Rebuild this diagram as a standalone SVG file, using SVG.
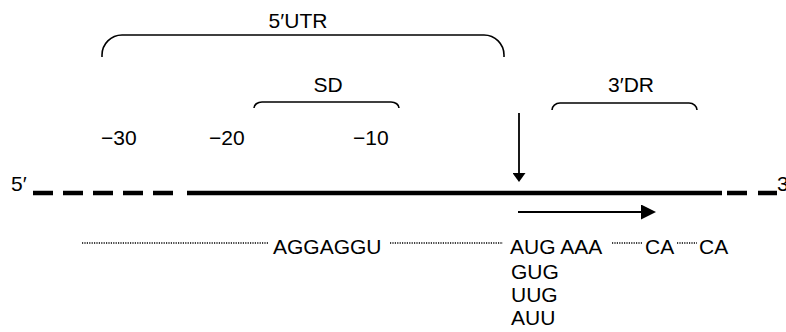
<svg xmlns="http://www.w3.org/2000/svg" width="786" height="332" viewBox="0 0 786 332">
<style>
text{font-family:"Liberation Sans",Arial,sans-serif;font-size:21px;fill:#000}
.br{fill:none;stroke:#000;stroke-width:1.6}
.dot{stroke:#000;stroke-width:1.4;stroke-dasharray:1.2 1.2;fill:none}
.main{stroke:#000;stroke-width:4.5;fill:none}
.arr{stroke:#000;stroke-width:1.8;fill:none}
</style>
<defs>
<marker id="ah" viewBox="0 0 15 15" refX="0" refY="7.5" markerWidth="15" markerHeight="15" markerUnits="userSpaceOnUse" orient="auto">
<path d="M0,0 L15,7.5 L0,15 Z" fill="#000"/>
</marker>
<marker id="ahv" viewBox="0 0 9 13" refX="0" refY="6.5" markerWidth="9" markerHeight="13" markerUnits="userSpaceOnUse" orient="auto">
<path d="M0,0 L9,6.5 L0,13 Z" fill="#000"/>
</marker>
</defs>
<g id="utr5">
<path class="br" d="M102,57 V55 A20,20 0 0 1 122,35 H484 A20,20 0 0 1 504,55 V57"/>
<text x="298" y="28" text-anchor="middle">5′UTR</text>
</g>
<g id="sd">
<path class="br" d="M254,108 A8,6 0 0 1 262,102 H391 A8,6 0 0 1 399,108"/>
<text x="328" y="92" text-anchor="middle">SD</text>
</g>
<g id="dr3">
<path class="br" d="M552,110 A8,7 0 0 1 560,103 H689 A8,7 0 0 1 697,110"/>
<text x="631" y="92" text-anchor="middle">3′DR</text>
</g>
<g id="positions">
<text x="101" y="145">−30</text>
<text x="209" y="145">−20</text>
<text x="353" y="145">−10</text>
</g>
<g id="strand">
<text x="11" y="191">5′</text>
<path class="main" d="M33,193 H173" stroke-dasharray="20 10"/>
<path class="main" d="M187,193 H722"/>
<path class="main" d="M727,193 H777" stroke-dasharray="20 11"/>
<text x="777" y="191">3′</text>
</g>
<g id="sequence">
<path class="dot" d="M82,243 H268"/>
<text x="273" y="254">AGGAGGU</text>
<path class="dot" d="M390,243 H503"/>
<text x="510" y="254">AUG AAA</text>
<path class="dot" d="M612,243 H643"/>
<text x="645" y="254">CA</text>
<path class="dot" d="M677,243 H697"/>
<text x="699" y="254">CA</text>
<text x="511" y="279">GUG</text>
<text x="511" y="302">UUG</text>
<text x="511" y="325">AUU</text>
</g>
<g id="connectors">
<path class="arr" d="M519,113 V173" marker-end="url(#ahv)"/>
<path class="arr" d="M518,212 H641" marker-end="url(#ah)"/>
</g>
</svg>
